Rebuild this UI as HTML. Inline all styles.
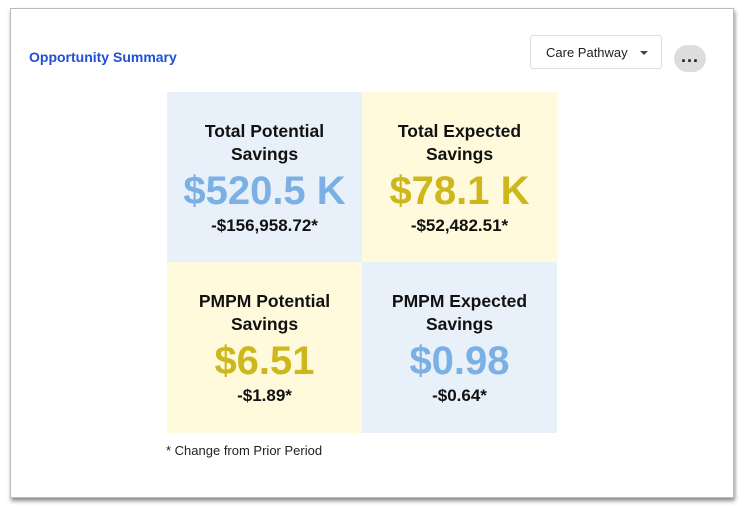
<!DOCTYPE html>
<html><head><style>
body{margin:0;width:744px;height:513px;background:#fff;font-family:"Liberation Sans",sans-serif;position:relative;overflow:hidden}
.card{position:absolute;left:10px;top:8px;width:722px;height:488px;border:1px solid #bbb;box-shadow:1px 3px 4px rgba(0,0,0,.45);background:#fff}
.t{position:absolute;left:29px;top:49px;font-size:14px;font-weight:bold;color:#1f4fd6}
.btn{position:absolute;left:530px;top:35px;width:132px;height:34px;border:1px solid #ddd;border-radius:3px;box-sizing:border-box;font-size:13px;color:#222;line-height:33px;padding-left:15px}
.btn:after{content:"";position:absolute;right:13px;top:15px;border-left:4px solid transparent;border-right:4px solid transparent;border-top:4px solid #444}
.dots{position:absolute;left:674px;top:45px;width:32px;height:27px;border-radius:14px;background:#ddd;text-align:center;font-size:18px;font-weight:bold;line-height:22px;letter-spacing:1px;color:#222}
.c{position:absolute;width:195px;height:170px;text-align:center;color:#111}
.c .h{position:absolute;left:0;right:0;top:28px;font-size:17.5px;font-weight:bold;line-height:23px}
.c .v{position:absolute;left:0;right:0;top:76px;font-size:40px;font-weight:bold;line-height:46px}
.c .d{position:absolute;left:0;right:0;top:124px;font-size:17px;font-weight:bold}
.b{background:#e8f0f9}.b .v{color:#7ab0e4}
.y{background:#fffadb}.y .v{color:#cdb71c}
.f{position:absolute;left:166px;top:443px;font-size:13px;color:#222}
</style></head><body>
<div class="card"></div>
<div class="t">Opportunity Summary</div>
<div class="btn">Care Pathway</div>
<div class="dots">...</div>
<div class="c b" style="left:167px;top:92px"><div class="h">Total Potential<br>Savings</div><div class="v">$520.5 K</div><div class="d">-$156,958.72*</div></div>
<div class="c y" style="left:362px;top:92px"><div class="h">Total Expected<br>Savings</div><div class="v">$78.1 K</div><div class="d">-$52,482.51*</div></div>
<div class="c y" style="left:167px;top:262px;height:171px"><div class="h">PMPM Potential<br>Savings</div><div class="v">$6.51</div><div class="d">-$1.89*</div></div>
<div class="c b" style="left:362px;top:262px;height:171px"><div class="h">PMPM Expected<br>Savings</div><div class="v">$0.98</div><div class="d">-$0.64*</div></div>
<div class="f">* Change from Prior Period</div>
</body></html>
